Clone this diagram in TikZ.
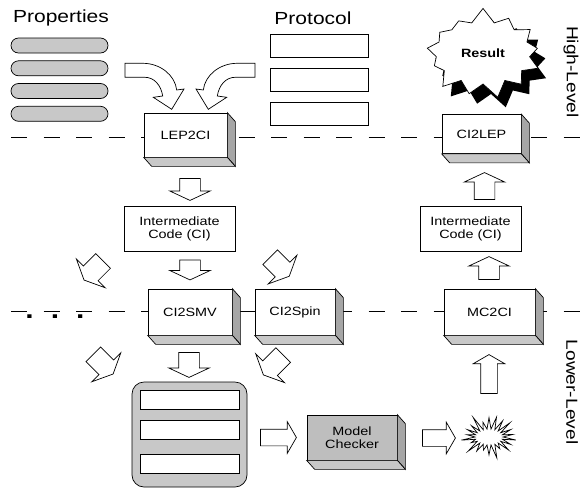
\documentclass[tikz,border=0pt]{standalone}
\usepackage{fontspec}
\setmainfont{Liberation Sans}[FakeStretch=1.2]
\usetikzlibrary{shapes.arrows,shapes.symbols,shadows}
\definecolor{panelgray}{HTML}{C8C8C8}
\definecolor{sidegray}{HTML}{A6A6A6}
\definecolor{checkgray}{HTML}{BEBEBE}

\begin{document}
\begin{tikzpicture}[x=1pt,y=-1pt,line width=0.7pt,
  heading/.style={font=\fontsize{17.5}{20}\selectfont},
  boxtext/.style={font=\fontsize{12}{13}\selectfont,align=center},
  module/.style={draw,fill=white,inner sep=0pt,boxtext},
  fat/.style={single arrow,draw,fill=white,inner xsep=0pt,inner ysep=10pt,
    single arrow head extend=10pt,single arrow tip angle=130,minimum height=#1},
  slim/.style={single arrow,draw,fill=white,inner xsep=0pt,inner ysep=8pt,
    single arrow head extend=7.5pt,single arrow tip angle=120,minimum height=#1},
  level/.style={line width=0.6pt,dash pattern=on 16pt off 16.5pt}]
  \useasboundingbox (0,0) rectangle (580,493);

  \coordinate (hl) at (11,137);  \coordinate (hr) at (580,137);
  \coordinate (ll) at (11,311);  \coordinate (lr) at (580,311);
  \draw[level] (hl) -- (hr);
  \draw[level] (ll) -- (lr);

  \node[heading] (props) at (61,18) {Properties};
  \node[heading] (proto) at (313,18) {Protocol};
  \foreach \i/\y in {1/45.5,2/68.3,3/91,4/113.8}
    \node[draw,fill=panelgray,rounded corners=7.5pt,minimum width=97pt,minimum height=15pt] (prop\i) at (59.5,\y) {};
  \foreach \i/\y in {1/45.5,2/79.5,3/114}
    \node[draw,fill=white,minimum width=98pt,minimum height=23pt] (proto\i) at (319,\y) {};

  \foreach \s in {1,-1}
    \draw[fill=white,shift={(190,0)},xscale=\s] (-65,63.3) -- (-47,63.3)
      .. controls (-30,63.3) and (-15,75) .. (-13.3,90) -- (-6,89) -- (-18.3,109.3)
      -- (-36.7,97.3) -- (-27.3,96) .. controls (-29,85) and (-36,77.3) .. (-45,77.3)
      -- (-65,77.3) -- cycle;

  \node[starburst,draw,fill=white,starburst points=13,starburst point height=15pt,
    random starburst=7,minimum width=124pt,minimum height=92pt,inner sep=0pt,
    font=\bfseries\fontsize{12}{13}\selectfont,
    drop shadow={shadow xshift=8pt,shadow yshift=-10pt,fill=black,opacity=1}] (result) at (483,53) {Result};

  \node[module,minimum width=83pt,minimum height=44pt] (lep2ci) at (185.5,135) {LEP2CI};
  \node[module,minimum width=79pt,minimum height=39pt] (ci2lep) at (481.5,134) {CI2LEP};
  \node[module,minimum width=84pt,minimum height=46pt] (ci2smv) at (190,312) {CI2SMV};
  \node[module,minimum width=80pt,minimum height=46pt] (ci2spin) at (295,312) {CI2Spin};
  \node[module,minimum width=91pt,minimum height=46pt] (mc2ci) at (489.5,312) {MC2CI};
  \node[module,fill=checkgray,minimum width=90pt,minimum height=45pt] (checker) at (352,437.5) {Model\\Checker};
  \foreach \n in {lep2ci,ci2lep,ci2smv,ci2spin,mc2ci,checker}{
    \draw[fill=sidegray] (\n.north east) -- ++(8,9) -- ([shift={(8,9)}]\n.south east) -- (\n.south east) -- cycle;
    \draw[fill=panelgray] (\n.south west) -- ++(8,9) -- ([shift={(8,9)}]\n.south east) -- (\n.south east) -- cycle;
  }

  \node[draw,fill=white,boxtext,minimum width=111pt,minimum height=45pt] (icl) at (179.5,228.5) {Intermediate\\Code (CI)};
  \node[draw,fill=white,boxtext,minimum width=101pt,minimum height=45pt] (icr) at (470.5,228.5) {Intermediate\\Code (CI)};

  \node[anchor=base,font=\bfseries\fontsize{25}{25}\selectfont] (more) at (55,318.5) {.\hskip17pt.\hskip17pt.};

  \node[draw,fill=panelgray,rounded corners=12pt,minimum width=115pt,minimum height=105pt] (models) at (189.5,434.5) {};
  \foreach \i/\y in {1/399.5,2/429.5,3/464}
    \node[draw,fill=white,minimum width=99pt,minimum height=19pt] (model\i) at (189.5,\y) {};

  \node[starburst,draw,fill=white,starburst points=22,starburst point height=16pt,
    minimum width=60pt,minimum height=48pt,inner sep=0pt] (flash) at (489,437) {};

  \node[fat=22pt,rotate=-90] (a1) at (190,187) {};
  \node[fat=20pt,rotate=-90] (a2) at (190,267.5) {};
  \node[fat=27pt,rotate=225] (d1) at (95.3,268.8) {};
  \node[fat=27pt,rotate=-45] (d2) at (278,265) {};
  \node[fat=28pt,rotate=-45] (d3) at (101.5,362.4) {};
  \node[fat=28pt,rotate=225] (d4) at (275,363.3) {};
  \node[fat=25pt,rotate=-90] (a3) at (189,362.5) {};
  \node[slim=36pt] (a4) at (276,437.5) {};
  \node[slim=33pt] (a5) at (436.5,438) {};
  \node[slim=39pt,rotate=90] (u1) at (489,376.5) {};
  \node[fat=23pt,rotate=90] (u2) at (489,270.5) {};
  \node[fat=27pt,rotate=90] (u3) at (484.5,188.5) {};

  \node[font=\fontsize{16}{18}\selectfont,rotate=-90] (high) at (571,72) {High-Level};
  \node[font=\fontsize{16}{18}\selectfont,rotate=-90] (low) at (572,392) {Lower-Level};
\end{tikzpicture}
\end{document}
